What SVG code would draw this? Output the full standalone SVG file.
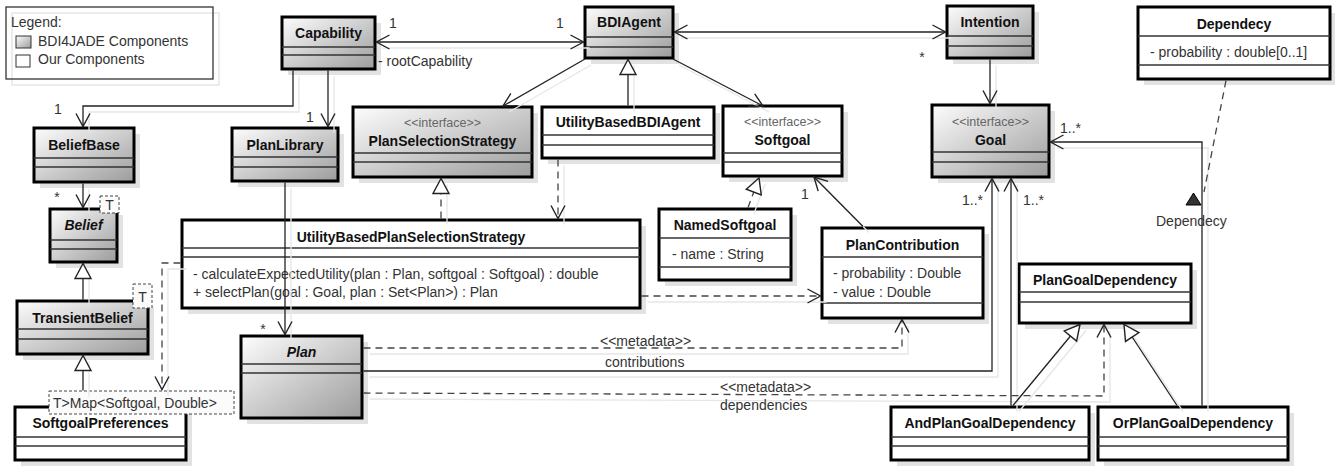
<svg xmlns="http://www.w3.org/2000/svg" width="1335" height="466" viewBox="0 0 1335 466">
<defs>
<linearGradient id="grad" x1="0" y1="0" x2="1" y2="1">
<stop offset="0" stop-color="#fdfdfd"/>
<stop offset="1" stop-color="#9c9c9c"/>
</linearGradient>
<marker id="arr" markerUnits="userSpaceOnUse" viewBox="-15 -9 17 18" refX="0" refY="0" markerWidth="17" markerHeight="18" orient="auto-start-reverse">
<path d="M-13,-7 L0,0 L-13,7" fill="none" stroke="#222" stroke-width="1.4"/>
</marker>
<marker id="tri" markerUnits="userSpaceOnUse" viewBox="-17 -10 19 20" refX="0" refY="0" markerWidth="19" markerHeight="20" orient="auto">
<path d="M0,0 L-15,-8 L-15,8 Z" fill="#fff" stroke="#222" stroke-width="1.4"/>
</marker>
</defs>
<style>
.sh{fill:#e2e2e2}
.box{stroke:#000;stroke-width:3}
.g{fill:url(#grad)}
.w{fill:#fff}
.sep{stroke:#333;stroke-width:1.5}
.cn{font-family:"Liberation Sans",Arial,sans-serif;font-weight:bold;font-size:14px;text-anchor:middle;fill:#111}
.it{font-style:italic}
.st{font-family:"Liberation Sans",Arial,sans-serif;font-size:12.5px;text-anchor:middle;fill:#666}
.tx{font-family:"Liberation Sans",Arial,sans-serif;font-size:14px;fill:#333}
.lb{font-family:"Liberation Sans",Arial,sans-serif;font-size:14px;fill:#333}
.tpl{fill:#fbfbfb;stroke:#444;stroke-width:1;stroke-dasharray:3 2}
.ln{fill:none;stroke:#222;stroke-width:1.3}
.dl{stroke:#444;stroke-dasharray:7 5}
.gh path{fill:none;stroke:#e6e6e6;stroke-width:1.3}
</style>
<rect width="1335" height="466" fill="#fff"/>

<g id="legend">
<rect x="12" y="13" width="207" height="72" fill="none" stroke="#e2e2e2" stroke-width="1.3"/>
<rect x="6" y="7" width="207" height="72" fill="none" stroke="#333" stroke-width="1.3"/>
<rect x="16" y="36" width="15" height="12" class="g" stroke="#333"/>
<rect x="16" y="55" width="14" height="12" fill="#fff" stroke="#333"/>
<text class="tx" x="11" y="27">Legend:</text>
<text class="tx" x="38" y="46">BDI4JADE Components</text>
<text class="tx" x="38" y="64">Our Components</text>
</g>

<g id="n-capability">
<rect class="sh" x="288" y="23" width="93" height="52"/>
<rect class="box g" x="282" y="17" width="93" height="52"/>
<line class="sep" x1="282" y1="47" x2="375" y2="47"/><line class="sep" x1="282" y1="55" x2="375" y2="55"/>
<text class="cn" x="328.5" y="38">Capability</text>
</g>

<g id="n-bdiagent">
<rect class="sh" x="591" y="13" width="88" height="51"/>
<rect class="box g" x="585" y="7" width="88" height="51"/>
<line class="sep" x1="585" y1="37" x2="673" y2="37"/><line class="sep" x1="585" y1="47" x2="673" y2="47"/>
<text class="cn" x="629" y="27">BDIAgent</text>
</g>

<g id="n-intention">
<rect class="sh" x="953" y="12" width="86" height="52"/>
<rect class="box g" x="947" y="6" width="86" height="52"/>
<line class="sep" x1="947" y1="36" x2="1033" y2="36"/><line class="sep" x1="947" y1="46" x2="1033" y2="46"/>
<text class="cn" x="990" y="27">Intention</text>
</g>

<g id="n-dependecy">
<rect class="sh" x="1144" y="13" width="192" height="72"/>
<rect class="box w" x="1138" y="7" width="192" height="72"/>
<line class="sep" x1="1138" y1="36" x2="1330" y2="36"/><line class="sep" x1="1138" y1="65" x2="1330" y2="65"/>
<text class="cn" x="1234" y="29">Dependecy</text>
<text class="tx" x="1150" y="57">- probability : double[0..1]</text>
</g>

<g id="n-beliefbase">
<rect class="sh" x="40" y="134" width="100" height="54"/>
<rect class="box g" x="34" y="128" width="100" height="54"/>
<line class="sep" x1="34" y1="158" x2="134" y2="158"/><line class="sep" x1="34" y1="167" x2="134" y2="167"/>
<text class="cn" x="84" y="150">BeliefBase</text>
</g>

<g id="n-planlibrary">
<rect class="sh" x="238" y="134" width="106" height="53"/>
<rect class="box g" x="232" y="128" width="106" height="53"/>
<line class="sep" x1="232" y1="157" x2="338" y2="157"/><line class="sep" x1="232" y1="167" x2="338" y2="167"/>
<text class="cn" x="285" y="150">PlanLibrary</text>
</g>

<g id="n-planselectionstrategy">
<rect class="sh" x="359" y="113" width="179" height="70"/>
<rect class="box g" x="353" y="107" width="179" height="70"/>
<line class="sep" x1="353" y1="153" x2="532" y2="153"/><line class="sep" x1="353" y1="162" x2="532" y2="162"/>
<text class="st" x="442.5" y="127">&lt;&lt;interface&gt;&gt;</text>
<text class="cn" x="442.5" y="146">PlanSelectionStrategy</text>
</g>

<g id="n-utilitybasedbdiagent">
<rect class="sh" x="548" y="113" width="172" height="51"/>
<rect class="box w" x="542" y="107" width="172" height="51"/>
<line class="sep" x1="542" y1="135" x2="714" y2="135"/><line class="sep" x1="542" y1="145" x2="714" y2="145"/>
<text class="cn" x="628" y="127">UtilityBasedBDIAgent</text>
</g>

<g id="n-softgoal">
<rect class="sh" x="729" y="112" width="119" height="70"/>
<rect class="box w" x="723" y="106" width="119" height="70"/>
<line class="sep" x1="723" y1="153" x2="842" y2="153"/><line class="sep" x1="723" y1="162" x2="842" y2="162"/>
<text class="st" x="782.5" y="126">&lt;&lt;interface&gt;&gt;</text>
<text class="cn" x="782.5" y="145">Softgoal</text>
</g>

<g id="n-goal">
<rect class="sh" x="938" y="111" width="117" height="72"/>
<rect class="box g" x="932" y="105" width="117" height="72"/>
<line class="sep" x1="932" y1="152" x2="1049" y2="152"/><line class="sep" x1="932" y1="162" x2="1049" y2="162"/>
<text class="st" x="990.5" y="126">&lt;&lt;interface&gt;&gt;</text>
<text class="cn" x="990.5" y="145">Goal</text>
</g>

<g id="n-belief">
<rect class="sh" x="56" y="215" width="67" height="53"/>
<rect class="box g" x="50" y="209" width="67" height="53"/>
<line class="sep" x1="50" y1="240" x2="117" y2="240"/><line class="sep" x1="50" y1="249" x2="117" y2="249"/>
<text class="cn it" x="83.5" y="230">Belief</text>
<rect class="tpl" x="100" y="196" width="19" height="17"/>
<text class="tx" x="109.5" y="210" text-anchor="middle" font-size="13">T</text>
</g>

<g id="n-utilitybasedplanselectionstrategy">
<rect class="sh" x="188" y="226" width="458" height="88"/>
<rect class="box w" x="182" y="220" width="458" height="88"/>
<line class="sep" x1="182" y1="248" x2="640" y2="248"/><line class="sep" x1="182" y1="257" x2="640" y2="257"/>
<text class="cn" x="411" y="242">UtilityBasedPlanSelectionStrategy</text>
<text class="tx" x="193" y="279">- calculateExpectedUtility(plan : Plan, softgoal : Softgoal) : double</text>
<text class="tx" x="193" y="297">+ selectPlan(goal : Goal, plan : Set&lt;Plan&gt;) : Plan</text>
</g>

<g id="n-namedsoftgoal">
<rect class="sh" x="665" y="215" width="132" height="71"/>
<rect class="box w" x="659" y="209" width="132" height="71"/>
<line class="sep" x1="659" y1="238" x2="791" y2="238"/><line class="sep" x1="659" y1="267" x2="791" y2="267"/>
<text class="cn" x="725" y="230">NamedSoftgoal</text>
<text class="tx" x="672" y="259">- name : String</text>
</g>

<g id="n-plancontribution">
<rect class="sh" x="828" y="234" width="161" height="90"/>
<rect class="box w" x="822" y="228" width="161" height="90"/>
<line class="sep" x1="822" y1="257" x2="983" y2="257"/><line class="sep" x1="822" y1="303" x2="983" y2="303"/>
<text class="cn" x="902.5" y="250">PlanContribution</text>
<text class="tx" x="833" y="278">- probability : Double</text>
<text class="tx" x="833" y="297">- value : Double</text>
</g>

<g id="n-plangoaldependency">
<rect class="sh" x="1025" y="270" width="172" height="59"/>
<rect class="box w" x="1019" y="264" width="172" height="59"/>
<line class="sep" x1="1019" y1="292" x2="1191" y2="292"/><line class="sep" x1="1019" y1="302" x2="1191" y2="302"/>
<text class="cn" x="1105" y="285">PlanGoalDependency</text>
</g>

<g id="n-transientbelief">
<rect class="sh" x="23" y="307" width="131" height="53"/>
<rect class="box g" x="17" y="301" width="131" height="53"/>
<line class="sep" x1="17" y1="329" x2="148" y2="329"/><line class="sep" x1="17" y1="339" x2="148" y2="339"/>
<text class="cn" x="82.5" y="323">TransientBelief</text>
<rect class="tpl" x="133" y="284" width="19" height="24"/>
<text class="tx" x="142.5" y="302" text-anchor="middle" font-size="13">T</text>
</g>

<g id="n-plan">
<rect class="sh" x="247" y="342" width="121" height="82"/>
<rect class="box g" x="241" y="336" width="121" height="82"/>
<line class="sep" x1="241" y1="364" x2="362" y2="364"/><line class="sep" x1="241" y1="373" x2="362" y2="373"/>
<text class="cn it" x="301.5" y="357">Plan</text>
</g>

<g id="n-softgoalpreferences">
<rect class="sh" x="21" y="413" width="171" height="53"/>
<rect class="box w" x="15" y="407" width="171" height="53"/>
<line class="sep" x1="15" y1="437" x2="186" y2="437"/><line class="sep" x1="15" y1="446" x2="186" y2="446"/>
<text class="cn" x="100.5" y="428">SoftgoalPreferences</text>
<rect class="tpl" x="49" y="391" width="185" height="23" fill="#fff"/>
<text class="tx" x="53" y="408" fill="#555">T&gt;Map&lt;Softgoal, Double&gt;</text>
</g>

<g id="n-andplangoaldependency">
<rect class="sh" x="897" y="413" width="198" height="53"/>
<rect class="box w" x="891" y="407" width="198" height="53"/>
<line class="sep" x1="891" y1="437" x2="1089" y2="437"/><line class="sep" x1="891" y1="446" x2="1089" y2="446"/>
<text class="cn" x="990" y="428">AndPlanGoalDependency</text>
</g>

<g id="n-orplangoaldependency">
<rect class="sh" x="1104" y="413" width="190" height="53"/>
<rect class="box w" x="1098" y="407" width="190" height="53"/>
<line class="sep" x1="1098" y1="437" x2="1288" y2="437"/><line class="sep" x1="1098" y1="446" x2="1288" y2="446"/>
<text class="cn" x="1193" y="428">OrPlanGoalDependency</text>
</g>

<g id="connectors">
<g class="gh" transform="translate(6,6)">
<path d="M376.5,42 H583.5"/>
<path d="M674.5,32 H945.5"/>
<path d="M293,70.5 V106 H83 V126.5"/>
<path d="M328,70.5 V126.5"/>
<path d="M83,183.5 V207.5"/>
<path d="M285,182.5 V334.5"/>
<path d="M585,59 L503,106"/>
<path d="M673,59 L763,106"/>
<path d="M628,105.5 V59.5"/>
<path d="M441,218.5 V178.5"/>
<path d="M558,159.5 V218.5"/>
<path d="M748,207.5 L759,178"/>
<path d="M863,226.5 L814,177"/>
<path d="M990,59.5 V103.5"/>
<path d="M363.5,348 H902 V319.5"/>
<path d="M363.5,371 H992 V178.5"/>
<path d="M363.5,393 L1104,396 V324.5"/>
<path d="M1011,405.5 V178.5"/>
<path d="M1013,405.5 L1080,324.5"/>
<path d="M1177,405.5 L1124,324.5"/>
<path d="M1202,405.5 V142 H1050.5"/>
<path d="M641.5,296 H820.5"/>
<path d="M180.5,263 H162 V389.5"/>
<path d="M83,299.5 V263.5"/>
<path d="M83,390.5 V355.5"/>
</g>
<path class="ln" d="M376.5,42 H583.5" marker-start="url(#arr)" marker-end="url(#arr)"/>
<path class="ln" d="M674.5,32 H945.5" marker-start="url(#arr)" marker-end="url(#arr)"/>
<path class="ln" d="M293,70.5 V106 H83 V126.5" marker-end="url(#arr)"/>
<path class="ln" d="M328,70.5 V126.5" marker-end="url(#arr)"/>
<path class="ln" d="M83,183.5 V207.5" marker-end="url(#arr)"/>
<path class="ln" d="M285,182.5 V334.5" marker-end="url(#arr)"/>
<path class="ln" d="M585,59 L503,106" marker-end="url(#arr)"/>
<path class="ln" d="M673,59 L763,106" marker-end="url(#arr)"/>
<path class="ln" d="M628,105.5 V59.5" marker-end="url(#tri)"/>
<path class="ln dl" d="M441,218.5 V178.5" marker-end="url(#tri)"/>
<path class="ln dl" d="M558,159.5 V218.5" marker-end="url(#arr)"/>
<path class="ln dl" d="M748,207.5 L759,178" marker-end="url(#tri)"/>
<path class="ln" d="M863,226.5 L814,177" marker-end="url(#arr)"/>
<path class="ln" d="M990,59.5 V103.5" marker-end="url(#arr)"/>
<path class="ln dl" d="M363.5,348 H902 V319.5" marker-end="url(#arr)"/>
<path class="ln" d="M363.5,371 H992 V178.5" marker-end="url(#arr)"/>
<path class="ln dl" d="M363.5,393 L1104,396 V324.5" marker-end="url(#arr)"/>
<path class="ln" d="M1011,405.5 V178.5" marker-end="url(#arr)"/>
<path class="ln" d="M1013,405.5 L1080,324.5" marker-end="url(#tri)"/>
<path class="ln" d="M1177,405.5 L1124,324.5" marker-end="url(#tri)"/>
<path class="ln" d="M1202,405.5 V142 H1050.5" marker-end="url(#arr)"/>
<path class="ln dl" d="M1226,80.5 L1204,192"/>
<polygon points="1193.5,193 1201,205 1186,205" fill="#333" stroke="#000" stroke-width="1"/>
<path class="ln dl" d="M641.5,296 H820.5" marker-end="url(#arr)"/>
<path class="ln dl" d="M180.5,263 H162 V389.5" marker-end="url(#arr)"/>
<path class="ln" d="M83,299.5 V263.5" marker-end="url(#tri)"/>
<path class="ln" d="M83,390.5 V355.5" marker-end="url(#tri)"/>
</g>

<g id="labels">
<text class="lb" x="393" y="28" text-anchor="middle">1</text>
<text class="lb" x="560" y="28" text-anchor="middle">1</text>
<text class="lb" x="378" y="66">- rootCapability</text>
<text class="lb" x="922" y="62" text-anchor="middle">*</text>
<text class="lb" x="58" y="114" text-anchor="middle">1</text>
<text class="lb" x="310" y="122" text-anchor="middle">1</text>
<text class="lb" x="57" y="202" text-anchor="middle">*</text>
<text class="lb" x="263" y="334" text-anchor="middle">*</text>
<text class="lb" x="805" y="199" text-anchor="middle">1</text>
<text class="lb" x="962" y="205">1..*</text>
<text class="lb" x="1023" y="205">1..*</text>
<text class="lb" x="1060" y="133">1..*</text>
<text class="lb" x="600" y="346">&lt;&lt;metadata&gt;&gt;</text>
<text class="lb" x="605" y="367">contributions</text>
<text class="lb" x="720" y="392">&lt;&lt;metadata&gt;&gt;</text>
<text class="lb" x="720" y="410">dependencies</text>
<text class="lb" x="1156" y="226">Dependecy</text>
</g>
</svg>
